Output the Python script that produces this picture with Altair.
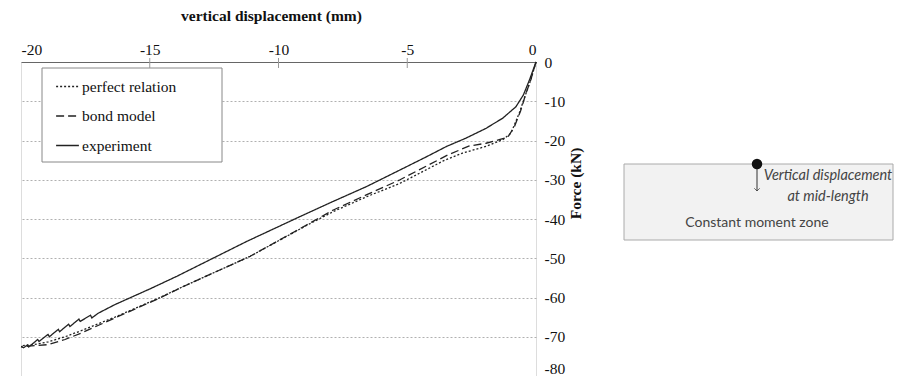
import altair as alt
import pandas as pd

# ---- data ----
series_names = ["perfect relation", "bond model", "experiment"]

exp_x = [0, -0.25, -0.49, -0.78, -1.29, -1.94, -2.72, -3.47, -4.3, -5.28, -6.57, -7.87, -9.17,
         -11.23, -13.95, -14.99, -16.35, -17.0, -17.25, -17.3, -17.7, -17.75, -18.1, -18.15,
         -18.5, -18.55, -18.9, -18.95, -19.3, -19.35, -19.7, -19.75, -19.9, -20.0]
exp_y = [0, -4.5, -8.4, -11.4, -14.3, -16.9, -19.4, -21.5, -24.3, -27.5, -31.7, -35.5, -39.4,
         -45.7, -54.6, -57.8, -61.8, -64.0, -65.2, -64.5, -66.1, -65.5, -67.4, -66.8,
         -68.7, -68.1, -70.0, -69.4, -71.2, -70.7, -72.6, -72.1, -72.8, -72.5]

bond_x = [0, -0.2, -0.39, -0.6, -0.84, -1.1, -1.43, -1.94, -2.59, -3.4, -5.28, -6.57, -7.87,
          -8.9, -11.1, -13.7, -14.6, -16.35, -17.64, -18.29, -18.94, -19.71, -20.0]
bond_y = [0, -4.5, -8.0, -12.5, -16.5, -19.2, -19.8, -20.7, -21.4, -23.6, -30.0, -33.8, -37.7,
          -41.5, -49.5, -57.2, -60.1, -65.2, -69.0, -70.7, -72.0, -72.4, -72.5]

perf_x = [0, -0.2, -0.4, -0.65, -0.97, -1.29, -1.94, -2.85, -3.6, -5.28, -6.57, -7.87,
          -8.9, -11.1, -13.7, -14.6, -16.35, -17.64, -18.29, -18.94, -19.5, -20.0]
perf_y = [0, -4.5, -8.2, -13.0, -18.1, -19.8, -21.5, -23.2, -25.2, -30.9, -34.3, -38.1,
          -41.6, -49.5, -57.2, -60.0, -65.0, -68.4, -70.0, -71.3, -72.0, -72.3]

x_ticks = [-20, -15, -10, -5, 0]
y_ticks = [0, -10, -20, -30, -40, -50, -60, -70, -80]

rows = []
for name, xs, ys in [("perfect relation", perf_x, perf_y),
                     ("bond model", bond_x, bond_y),
                     ("experiment", exp_x, exp_y)]:
    for i, (xv, yv) in enumerate(zip(xs, ys)):
        rows.append({"series": name, "disp": xv, "force": yv, "idx": i})
df = pd.DataFrame(rows)
tick_df = pd.DataFrame({"disp": x_ticks[1:-1]})

W, H = 515, 314
SERIF = "Liberation Serif"
SANS = "Lato"
FS = 15.5
HYPHEN = "replace(datum.label, '\u2212', '-')"

x_scale = alt.Scale(domain=[-20, 0], nice=False)
x_axis = alt.Axis(orient="top", values=x_ticks, title="vertical displacement (mm)",
                  grid=False, ticks=False, labelPadding=5,
                  titleY=-47, titleX=250, titleBaseline="middle", titleAlign="center",
                  labelExpr=HYPHEN, domainColor="#666",
                  labelFont=SERIF, labelFontSize=FS, labelColor="#111",
                  titleFont=SERIF, titleFontSize=FS, titleFontWeight="bold",
                  titleColor="#111")

lines = alt.Chart(df).mark_line(strokeWidth=1.3, color="#222").encode(
    x=alt.X("disp:Q", scale=x_scale, axis=x_axis),
    y=alt.Y("force:Q", scale=alt.Scale(domain=[-80, 0], nice=False),
            axis=alt.Axis(orient="right", values=y_ticks, title="Force (kN)",
                          grid=True, gridDash=[2, 2], gridColor="#b0b0b0",
                          ticks=False, domain=False, labelPadding=8,
                          labelExpr=HYPHEN,
                          labelBaseline={"condition": {"test": "datum.value == -80",
                                                       "value": "bottom"},
                                         "value": "middle"},
                          titleAngle=270, titleX=39, titleY=121,
                          titleAlign="center", titleBaseline="middle",
                          labelFont=SERIF, labelFontSize=FS, labelColor="#111",
                          titleFont=SERIF, titleFontSize=FS, titleFontWeight="bold",
                          titleColor="#111")),
    strokeDash=alt.StrokeDash("series:N",
                              scale=alt.Scale(domain=series_names,
                                              range=[[2, 2], [8, 4], [1, 0]]),
                              sort=series_names,
                              legend=alt.Legend(title=None, orient="none", legendX=34, legendY=12,
                                                symbolType="stroke", symbolSize=520,
                                                symbolStrokeWidth=1.3, symbolStrokeColor="#222",
                                                labelFont=SERIF, labelFontSize=FS,
                                                labelColor="#111", labelOffset=2,
                                                rowPadding=8.5, padding=0)),
    order="idx:Q",
    detail="series:N",
)

top_ticks = alt.Chart(tick_df).mark_rule(color="#999", strokeWidth=1).encode(
    x=alt.X("disp:Q", scale=x_scale, axis=x_axis),
    y=alt.value(-4), y2=alt.value(6))

one = pd.DataFrame({"k": [0]})

legend_box = alt.Chart(one).mark_rect(fill="white", stroke="#888", strokeWidth=1).encode(
    x=alt.value(21), x2=alt.value(201), y=alt.value(6), y2=alt.value(100))

zone = alt.Chart(one).mark_rect(fill="#f2f2f2", stroke="#aaa", strokeWidth=1).encode(
    x=alt.value(603), x2=alt.value(872), y=alt.value(102), y2=alt.value(178))

arrow = alt.Chart(one).mark_rule(color="#333", strokeWidth=1).encode(
    x=alt.value(736), y=alt.value(102), y2=alt.value(129))

arrow_head = alt.Chart(one).mark_point(shape="M-1,-1L0,0L1,-1", size=30, color="#333",
                                       strokeWidth=1, filled=False).encode(
    x=alt.value(736), y=alt.value(129))

dot = alt.Chart(one).mark_point(shape="circle", size=110, filled=True, color="#111",
                                opacity=1).encode(x=alt.value(736), y=alt.value(102))

t1 = alt.Chart(one).mark_text(text="Vertical displacement", font=SANS, fontSize=14.5,
                              fontStyle="italic", color="#444", align="center",
                              baseline="middle").encode(x=alt.value(807), y=alt.value(114))
t2 = alt.Chart(one).mark_text(text="at mid-length", font=SANS, fontSize=14.5,
                              fontStyle="italic", color="#444", align="center",
                              baseline="middle").encode(x=alt.value(807), y=alt.value(135))
t3 = alt.Chart(one).mark_text(text="Constant moment zone", font=SANS, fontSize=14,
                              color="#444", align="center",
                              baseline="middle").encode(x=alt.value(736), y=alt.value(161))

chart = alt.layer(legend_box, lines, top_ticks, zone, arrow, arrow_head, dot, t1, t2, t3).properties(
    width=W, height=H,
    padding={"left": 13, "top": 54, "right": 358, "bottom": 0},
    autosize=alt.AutoSizeParams(type="none"),
).configure_view(stroke="#888", strokeWidth=1).configure(background="white")

chart.save("out.html", embed_options={"renderer": "svg", "actions": False})
